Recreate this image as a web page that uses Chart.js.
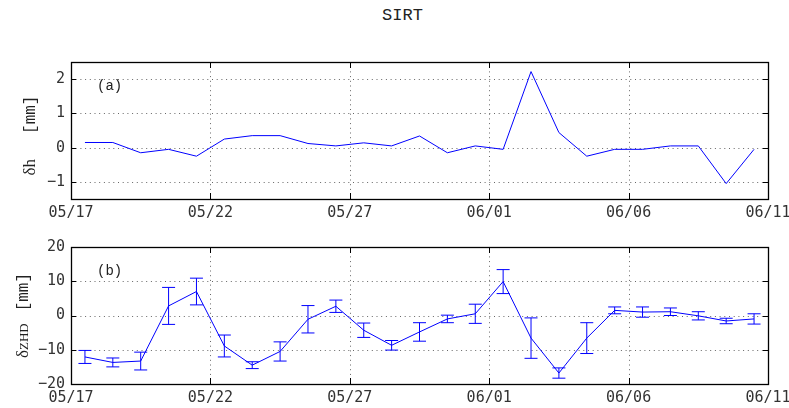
<!DOCTYPE html>
<html>
<head>
<meta charset="utf-8">
<script src="https://cdn.jsdelivr.net/npm/chart.js@4"></script>
<style>
  body { margin: 0; background: #fff; }
  #wrap { position: relative; width: 789px; height: 408px; }
  #title { position: absolute; left: 0; top: 6px; width: 805px; text-align: center;
           font: 17px "Liberation Mono", monospace; color: #222; }
  canvas { position: absolute; left: 0; }
</style>
</head>
<body>
<div id="wrap">
  <div id="title">SIRT</div>
  <canvas id="dh-chart" width="789" height="224" style="top:0"></canvas>
  <canvas id="zhd-chart" width="789" height="184" style="top:224px"></canvas>
</div>
<script>
// Daily solutions, 05/17 - 06/10
const dates = [
    '05/17', '05/18', '05/19', '05/20', '05/21', '05/22', '05/23', '05/24', '05/25', '05/26',
    '05/27', '05/28', '05/29', '05/30', '05/31', '06/01', '06/02', '06/03', '06/04', '06/05',
    '06/06', '06/07', '06/08', '06/09', '06/10'
];

// (a) height difference [mm]
const dh = [
    0.15, 0.15, -0.15, -0.05, -0.25, 0.25, 0.35, 0.35, 0.12, 0.05,
    0.14, 0.05, 0.34, -0.15, 0.05, -0.05, 2.22, 0.44, -0.25, -0.05,
    -0.05, 0.05, 0.05, -1.05, -0.05
];

// (b) ZHD difference [mm] and its error
const zhd = [
    -12.1, -13.7, -13.3, 2.8, 7.0, -8.9, -14.5, -10.5, -1.1, 2.7,
    -4.3, -8.7, -4.8, -1.0, 0.5, 9.9, -6.6, -16.8, -6.6, 1.5,
    1.0, 1.1, -0.1, -1.6, -1.0
];
const zhdErr = [
    1.9, 1.3, 2.6, 5.4, 3.9, 3.2, 1.0, 2.8, 4.0, 1.8,
    2.1, 1.4, 2.7, 1.1, 2.8, 3.5, 5.9, 1.5, 4.5, 1.0,
    1.5, 1.1, 1.2, 0.8, 1.5
];

const xTickLabels = ['05/17', '05/22', '05/27', '06/01', '06/06', '06/11'];
const dhTicks = [-1, 0, 1, 2];
const zhdTicks = [-20, -10, 0, 10, 20];

// days since the first date
function dayIndex(label) {
    const [m, d] = label.split('/').map(Number);
    const [m0, d0] = dates[0].split('/').map(Number);
    return (Date.UTC(2000, m - 1, d) - Date.UTC(2000, m0 - 1, d0)) / 86400000;
}

const xTickDays = xTickLabels.map(dayIndex);
const minus = v => String(v).replace('-', '\u2212');

// dotted grid, black frame and inward tick marks
const framePlugin = {
    id: 'frame',
    beforeDatasetsDraw(chart) {
        const { ctx, chartArea: a, scales: { x, y } } = chart;
        ctx.save();
        ctx.strokeStyle = '#666';
        ctx.lineWidth = 1;
        ctx.setLineDash([1, 3.7]);
        ctx.beginPath();
        y.ticks.forEach(t => {
            const py = Math.round(y.getPixelForValue(t.value)) + 0.5;
            if (py > a.top + 1 && py < a.bottom - 1) { ctx.moveTo(a.left, py); ctx.lineTo(a.right, py); }
        });
        x.ticks.forEach(t => {
            const px = Math.round(x.getPixelForValue(t.value)) + 0.5;
            if (px > a.left + 1 && px < a.right - 1) { ctx.moveTo(px, a.top); ctx.lineTo(px, a.bottom); }
        });
        ctx.stroke();
        ctx.restore();
    },
    afterDatasetsDraw(chart, args, opts) {
        const { ctx, chartArea: a, scales: { x, y } } = chart;
        ctx.save();
        ctx.strokeStyle = '#000';
        ctx.lineWidth = 1;
        ctx.beginPath();
        y.ticks.forEach(t => {
            const py = Math.round(y.getPixelForValue(t.value)) + 0.5;
            ctx.moveTo(a.left, py); ctx.lineTo(a.left + 5, py);
            ctx.moveTo(a.right, py); ctx.lineTo(a.right - 5, py);
        });
        x.ticks.forEach(t => {
            const px = Math.round(x.getPixelForValue(t.value)) + 0.5;
            ctx.moveTo(px, a.top); ctx.lineTo(px, a.top + 6);
            ctx.moveTo(px, a.bottom); ctx.lineTo(px, a.bottom - 6);
        });
        ctx.stroke();
        ctx.lineWidth = 1.3;
        ctx.strokeRect(Math.round(a.left) + 0.5, Math.round(a.top) + 0.5,
            Math.round(a.right - a.left), Math.round(a.bottom - a.top));

        // panel tag
        ctx.fillStyle = '#222';
        ctx.font = '14px "Liberation Mono", monospace';
        ctx.textBaseline = 'middle';
        ctx.fillText(opts.tag, a.left + 26, a.top + 24);

        // rotated axis title made of mixed-font pieces
        ctx.translate(a.left - opts.titleOffset, (a.top + a.bottom) / 2 + opts.titleShift);
        ctx.rotate(-Math.PI / 2);
        ctx.textBaseline = 'alphabetic';
        let total = 0;
        opts.title.forEach(p => { ctx.font = p.font; total += ctx.measureText(p.text).width + (p.gap || 0); });
        let pos = -total / 2;
        opts.title.forEach(p => {
            ctx.font = p.font;
            ctx.fillText(p.text, pos, 0);
            pos += ctx.measureText(p.text).width + (p.gap || 0);
        });
        ctx.restore();
    }
};

// vertical error bars with caps
const errorBarPlugin = {
    id: 'errorBars',
    afterDatasetsDraw(chart, args, opts) {
        if (!opts.errors) return;
        const { ctx, scales: { x, y } } = chart;
        const data = chart.data.datasets[0].data;
        ctx.save();
        ctx.strokeStyle = '#0000ff';
        ctx.lineWidth = 1;
        ctx.beginPath();
        data.forEach((p, i) => {
            const px = x.getPixelForValue(p.x);
            const y1 = y.getPixelForValue(p.y + opts.errors[i]);
            const y2 = y.getPixelForValue(p.y - opts.errors[i]);
            ctx.moveTo(px, y1); ctx.lineTo(px, y2);
            ctx.moveTo(px - 6.5, y1); ctx.lineTo(px + 6.5, y1);
            ctx.moveTo(px - 6.5, y2); ctx.lineTo(px + 6.5, y2);
        });
        ctx.stroke();
        ctx.restore();
    }
};

function makePanel(canvasId, values, errors, yMin, yMax, yTicks, cfg) {
    const tickFont = { family: 'DejaVu Sans Mono', size: 15 };
    return new Chart(document.getElementById(canvasId), {
        type: 'line',
        data: {
            datasets: [{
                data: dates.map((d, i) => ({ x: dayIndex(d) + 0.5, y: values[i] })),
                borderColor: '#0000ff',
                borderWidth: 1,
                pointRadius: 0,
                tension: 0,
                fill: false
            }]
        },
        options: {
            responsive: false,
            animation: false,
            devicePixelRatio: 1,
            layout: { padding: { left: 0, right: 21, top: cfg.top, bottom: 0 } },
            plugins: {
                legend: { display: false },
                tooltip: { enabled: false },
                frame: cfg.frame,
                errorBars: { errors: errors }
            },
            scales: {
                x: {
                    type: 'linear',
                    min: 0,
                    max: xTickDays[xTickDays.length - 1],
                    grid: { display: false, drawTicks: false },
                    border: { display: false },
                    afterBuildTicks: s => { s.ticks = xTickDays.map(v => ({ value: v })); },
                    afterFit: s => { s.height = cfg.xHeight; s.paddingLeft = 0; s.paddingRight = 0; },
                    ticks: {
                        autoSkip: false,
                        maxRotation: 0,
                        padding: 5,
                        color: '#333',
                        font: tickFont,
                        callback: v => xTickLabels[xTickDays.indexOf(v)]
                    }
                },
                y: {
                    min: yMin,
                    max: yMax,
                    grid: { display: false, drawTicks: false },
                    border: { display: false },
                    afterBuildTicks: s => { s.ticks = yTicks.map(v => ({ value: v })); },
                    afterFit: s => { s.width = 71; s.paddingTop = 0; s.paddingBottom = 0; },
                    ticks: {
                        padding: 6,
                        color: '#333',
                        font: tickFont,
                        callback: v => minus(v)
                    }
                }
            }
        },
        plugins: [framePlugin, errorBarPlugin]
    });
}

makePanel('dh-chart', dh, null, -1.5, 2.5, dhTicks, {
    top: 62,
    xHeight: 25,
    frame: {
        tag: '(a)',
        titleOffset: 36,
        titleShift: 5,
        title: [
            { text: '\u03b4h', font: '17px "Liberation Serif", serif', gap: 25 },
            { text: '[mm]', font: '16px "Liberation Mono", monospace' }
        ]
    }
});

makePanel('zhd-chart', zhd, zhdErr, -20, 20, zhdTicks, {
    top: 23,
    xHeight: 24,
    frame: {
        tag: '(b)',
        titleOffset: 43,
        titleShift: 0,
        title: [
            { text: '\u03b4', font: '17px "Liberation Serif", serif' },
            { text: 'ZHD', font: '13px "Liberation Serif", serif', gap: 12 },
            { text: '[mm]', font: '16px "Liberation Mono", monospace' }
        ]
    }
});
</script>
</body>
</html>
